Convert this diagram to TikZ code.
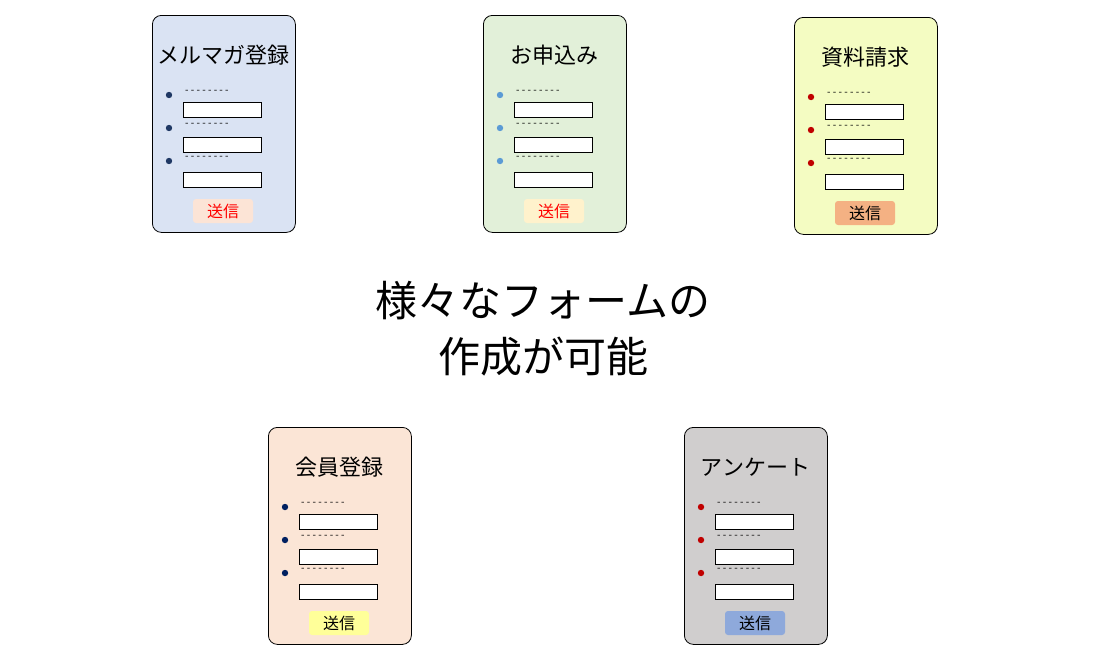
\documentclass[tikz,border=0pt]{standalone}
\usepackage{fontspec}
\newfontfamily\jp{Noto Sans CJK JP}
\definecolor{cA}{HTML}{DAE3F3}\definecolor{cB}{HTML}{E2F0D9}\definecolor{cC}{HTML}{F4FCC2}
\definecolor{cD}{HTML}{FBE5D6}\definecolor{cE}{HTML}{D0CECE}
\definecolor{bA}{HTML}{1F3864}\definecolor{bB}{HTML}{5B9BD5}\definecolor{bC}{HTML}{C00000}\definecolor{bD}{HTML}{002060}
\definecolor{kA}{HTML}{FCE4D6}\definecolor{kB}{HTML}{FFF2CC}\definecolor{kC}{HTML}{F4B183}\definecolor{kD}{HTML}{FFFF99}\definecolor{kE}{HTML}{8EA9DB}
\tikzset{card/.style={draw=black,rounded corners=9pt,minimum width=143pt,minimum height=217pt,inner sep=0,line width=0.8pt},
 field/.style={draw=black,fill=white,minimum width=78pt,minimum height=15pt,inner sep=0,line width=0.7pt},
 dots/.style={font=\jp\fontsize{10}{10}\selectfont,anchor=west,inner sep=0},
 btn/.style={rounded corners=3pt,minimum width=60pt,minimum height=24pt,inner sep=0,font=\jp\fontsize{16}{16}\selectfont}}
\newcommand\mycard[8]{%
 \node[card,fill=#4,anchor=north west] (#1) at (#2,-#3) {};
 \node[font=\jp\fontsize{22}{22}\selectfont] (#1t) at (#2+71.5,-#3-40) {#5};
 \foreach \i in {0,1,2}{
  \fill[#6] (#2+17,-#3-80-33*\i) circle (3.2pt);
  \node[dots] (#1d\i) at (#2+33,-#3-77-33*\i) {- - - - - - - -};
  \node[field,anchor=north west] (#1f\i) at (#2+31,-#3-87-35*\i) {};
 }
 \node[btn,fill=#7,text=#8] (#1b) at (#2+71,-#3-196) {送信};
}
\begin{document}
\begin{tikzpicture}[x=1pt,y=1pt]
\useasboundingbox (0,0) rectangle (1107,-664);
\mycard{a}{152}{15}{cA}{メルマガ登録}{bA}{kA}{red}
\mycard{b}{483}{15}{cB}{お申込み}{bB}{kB}{red}
\mycard{c}{794}{17}{cC}{資料請求}{bC}{kC}{black}
\mycard{d}{268}{427}{cD}{会員登録}{bD}{kD}{black}
\mycard{e}{684}{427}{cE}{アンケート}{bC}{kE}{black}
\node[font=\jp\fontsize{42}{56}\selectfont,align=center] (m) at (543,-329) {様々なフォームの\\作成が可能};
\end{tikzpicture}
\end{document}
